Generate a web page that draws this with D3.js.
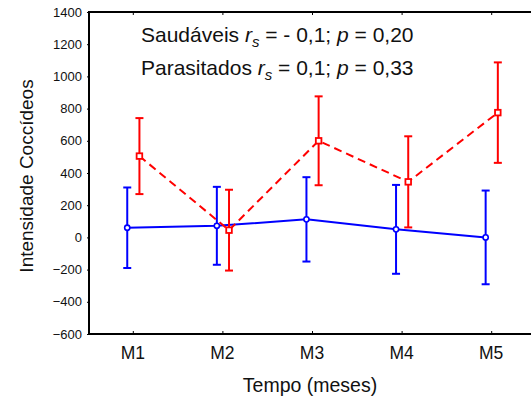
<!DOCTYPE html>
<html>
<head>
<meta charset="utf-8">
<script src="https://cdn.jsdelivr.net/npm/d3@7"></script>
<style>
  body { margin: 0; background: #fff; }
  svg { display: block; font-family: Arial, "Liberation Sans", sans-serif; }
</style>
</head>
<body>
<svg id="chart"></svg>
<script>
const width = 531;
const height = 405;

const months = ["M1", "M2", "M3", "M4", "M5"];
const yTicks = [-600, -400, -200, 0, 200, 400, 600, 800, 1000, 1200, 1400];

// Saudáveis (blue)
const healthyMean = [60, 72, 112, 50, 0];
const healthyErr = [250, 242, 262, 276, 291];
// Parasitados (red)
const infectedMean = [505, 45, 600, 345, 775];
const infectedErr = [236, 251, 276, 283, 312];

const svg = d3.select("#chart")
    .attr("width", width)
    .attr("height", height);

const x = d3.scaleLinear().domain([0.5, 5.5]).range([88, 536]);
const y = d3.scaleLinear().domain([-600, 1400]).range([334, 12]);

function drawSeries(means, errs, color, offset, dashed, marker) {
    const g = svg.append("g");
    const pts = means.map((m, i) => ({ i: i + 1, m: m, e: errs[i] }));
    const line = d3.line()
        .x(d => x(d.i + offset))
        .y(d => y(d.m));
    g.append("path")
        .datum(pts)
        .attr("d", line)
        .attr("fill", "none")
        .attr("stroke", color)
        .attr("stroke-width", 2)
        .attr("stroke-dasharray", dashed ? "8,5" : null);

    const bars = g.selectAll(".eb").data(pts).enter().append("g");
    bars.append("line")
        .attr("x1", d => x(d.i + offset)).attr("x2", d => x(d.i + offset))
        .attr("y1", d => y(d.m + d.e)).attr("y2", d => y(d.m - d.e))
        .attr("stroke", color).attr("stroke-width", 2);
    [1, -1].forEach(s => {
        bars.append("line")
            .attr("x1", d => x(d.i + offset) - 4).attr("x2", d => x(d.i + offset) + 4)
            .attr("y1", d => y(d.m + s * d.e)).attr("y2", d => y(d.m + s * d.e))
            .attr("stroke", color).attr("stroke-width", 2);
    });

    if (marker === "circle") {
        bars.append("circle")
            .attr("cx", d => x(d.i + offset))
            .attr("cy", d => y(d.m))
            .attr("r", 2.6)
            .attr("fill", "#fff")
            .attr("stroke", color)
            .attr("stroke-width", 1.6);
    } else {
        bars.append("rect")
            .attr("x", d => x(d.i + offset) - 2.8)
            .attr("y", d => y(d.m) - 2.8)
            .attr("width", 5.6)
            .attr("height", 5.6)
            .attr("fill", "#fff")
            .attr("stroke", color)
            .attr("stroke-width", 1.8);
    }
}

drawSeries(healthyMean, healthyErr, "#0000ff", -0.062, false, "circle");
drawSeries(infectedMean, infectedErr, "#ff0000", 0.074, true, "square");

// frame
svg.append("rect")
    .attr("x", x(0.5) + 1)
    .attr("y", y(1400))
    .attr("width", x(5.5) - x(0.5))
    .attr("height", y(-600) - y(1400))
    .attr("fill", "none")
    .attr("stroke", "#000")
    .attr("stroke-width", 2);

// y axis
const yAxis = svg.append("g")
    .attr("transform", `translate(${x(0.5) + 1},0)`)
    .call(d3.axisLeft(y).tickValues(yTicks).tickSize(2).tickPadding(5).tickFormat(d3.format("d")));
yAxis.select(".domain").remove();
yAxis.selectAll("text")
    .attr("font-size", 13)
    .attr("font-family", "Arial, 'Liberation Sans', sans-serif")
    .attr("fill", "#111");

// x ticks (inward, top and bottom)
const xb = svg.append("g")
    .attr("transform", `translate(0,${y(-600)})`)
    .call(d3.axisBottom(x).tickValues([1, 2, 3, 4, 5]).tickSize(-3).tickFormat(""));
xb.select(".domain").remove();
const xt = svg.append("g")
    .attr("transform", `translate(0,${y(1400)})`)
    .call(d3.axisTop(x).tickValues([1, 2, 3, 4, 5]).tickSize(-3).tickFormat(""));
xt.select(".domain").remove();

svg.append("g").selectAll("text")
    .data(months)
    .enter().append("text")
    .attr("x", (d, i) => x(i + 1))
    .attr("y", 359)
    .attr("text-anchor", "middle")
    .attr("font-size", 17.5)
    .attr("fill", "#111")
    .text(d => d);

// axis titles
svg.append("text")
    .attr("x", 310)
    .attr("y", 392)
    .attr("text-anchor", "middle")
    .attr("font-size", 19.5)
    .attr("fill", "#111")
    .text("Tempo (meses)");

svg.append("text")
    .attr("transform", "translate(33,176) rotate(-90)")
    .attr("text-anchor", "middle")
    .attr("font-size", 19)
    .attr("fill", "#111")
    .text("Intensidade Coccídeos");

// annotation
const notes = [
    { label: "Saudáveis ", rs: " = - 0,1; ", p: " = 0,20" },
    { label: "Parasitados ", rs: " = 0,1; ", p: " = 0,33" }
];
notes.forEach((n, i) => {
    const t = svg.append("text")
        .attr("x", 141)
        .attr("y", 42 + i * 33)
        .attr("font-size", 21)
        .attr("fill", "#111");
    t.append("tspan").text(n.label);
    t.append("tspan").attr("font-style", "italic").text("r");
    t.append("tspan").attr("font-style", "italic").attr("font-size", 15).attr("dy", 5).text("s");
    t.append("tspan").attr("dy", -5).text(n.rs);
    t.append("tspan").attr("font-style", "italic").text("p");
    t.append("tspan").text(n.p);
});
</script>
</body>
</html>
